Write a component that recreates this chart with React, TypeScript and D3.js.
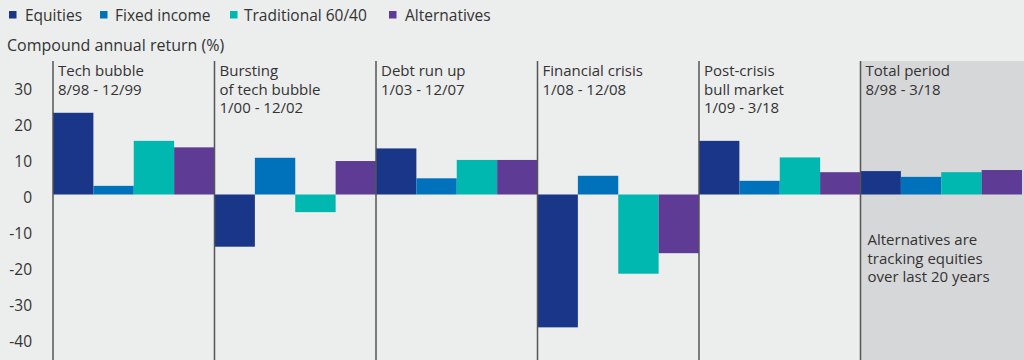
import React from "react";
import * as d3 from "d3";

const periods = ["tech", "burst", "debt", "crisis", "post", "total"];
const periodTitles = [
  ["Tech bubble", "8/98 - 12/99"],
  ["Bursting", "of tech bubble", "1/00 - 12/02"],
  ["Debt run up", "1/03 - 12/07"],
  ["Financial crisis", "1/08 - 12/08"],
  ["Post-crisis", "bull market", "1/09 - 3/18"],
  ["Total period", "8/98 - 3/18"],
];
const seriesNames = ["Equities", "Fixed income", "Traditional 60/40", "Alternatives"];
const seriesColors = ["#1a3688", "#0072bc", "#00b8b0", "#5e3c96"];
const equities = [22.7, -14.5, 12.8, -36.9, 14.9, 6.5];
const fixedIncome = [2.4, 10.2, 4.5, 5.2, 3.8, 4.9];
const traditional = [14.9, -4.9, 9.6, -22.0, 10.3, 6.2];
const alternatives = [13.1, 9.3, 9.6, -16.3, 6.2, 6.8];
const yTicks = [30, 20, 10, 0, -10, -20, -30, -40];
const noteLines = ["Alternatives are", "tracking equities", "over last 20 years"];

const seriesValues = [equities, fixedIncome, traditional, alternatives];
const FONT = "'Open Sans', 'Noto Sans', sans-serif";
const TEXT = "#333333";

export default function App() {
  const W = 1024, H = 360;
  const x0 = d3.scaleBand<string>().domain(periods).range([53, 1022]).padding(0);
  const x1 = d3.scaleBand<string>().domain(seriesNames).range([0, x0.bandwidth()]).padding(0);
  const y = d3.scaleLinear().domain([-40, 30]).range([338.5, 86.5]);

  const legendSq = [9, 100, 230, 389];
  const legendTx = [25, 115, 244, 405];

  return (
    <svg width={W} height={H} style={{ position: "absolute", left: 0, top: 0 }} fontFamily={FONT}>
      <rect x={0} y={0} width={W} height={H} fill="#eceded" />
      {/* shaded total panel */}
      <rect x={x0("total")!} y={61} width={W - x0("total")!} height={H - 61} fill="#d6d7d9" />
      {/* legend */}
      {seriesNames.map((s, i) => (
        <g key={s}>
          <rect x={legendSq[i]} y={11} width={7.5} height={7.5} fill={seriesColors[i]} />
          <text x={legendTx[i]} y={21} fontSize={15.5} fill={TEXT}>{s}</text>
        </g>
      ))}
      <text x={7} y={51} fontSize={16} fill={TEXT}>Compound annual return (%)</text>
      {/* y tick labels */}
      {yTicks.map((t) => (
        <text key={t} x={32} y={y(t) + 8} fontSize={15.5} fill={TEXT} textAnchor="end">{t}</text>
      ))}
      {/* bars */}
      {periods.map((p, pi) => (
        <g key={p}>
          {seriesNames.map((s, si) => {
            const v = seriesValues[si][pi];
            return (
              <rect
                key={s}
                x={x0(p)! + x1(s)!}
                y={y(Math.max(0, v))}
                width={x1.bandwidth()}
                height={Math.abs(y(v) - y(0))}
                fill={seriesColors[si]}
              />
            );
          })}
        </g>
      ))}
      {/* panel dividers */}
      {periods.map((p) => (
        <line key={p} x1={x0(p)!} x2={x0(p)!} y1={61} y2={H} stroke="#555" strokeWidth={1.5} />
      ))}
      {/* panel titles */}
      {periods.map((p, pi) => (
        <text key={p} x={x0(p)! + 5} y={76} fontSize={15} fill={TEXT}>
          {periodTitles[pi].map((line, li) => (
            <tspan key={li} x={x0(p)! + 5} dy={li === 0 ? 0 : 18.5}>{line}</tspan>
          ))}
        </text>
      ))}
      {/* note */}
      <text x={x0("total")! + 7} y={245} fontSize={15} fill={TEXT}>
        {noteLines.map((l, i) => (
          <tspan key={i} x={x0("total")! + 7} dy={i === 0 ? 0 : 18.5}>{l}</tspan>
        ))}
      </text>
    </svg>
  );
}
